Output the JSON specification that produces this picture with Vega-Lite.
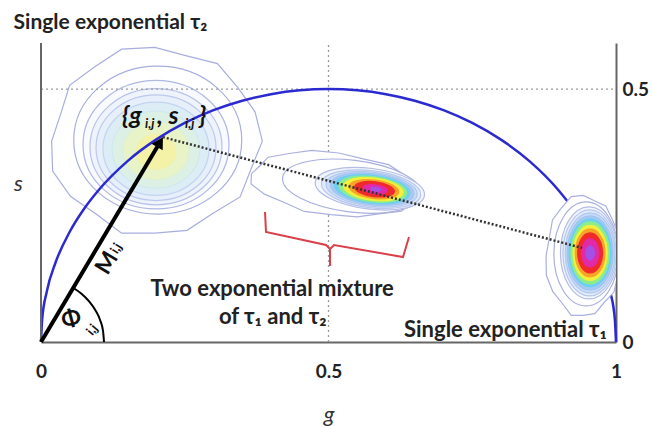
{
  "$schema": "https://vega.github.io/schema/vega-lite/v6.json",
  "width": 575,
  "height": 299,
  "autosize": "none",
  "padding": {"left": 41, "top": 43, "right": 36, "bottom": 84},
  "background": "white",
  "config": {"view": {"stroke": null}, "font": "Lato"},
  "title": {"text": "Single exponential τ₂", "anchor": "start", "font": "Lato", "fontSize": 21, "fontWeight": "bold", "color": "#222", "baseline": "alphabetic", "offset": -8},
  "datasets": {
    "contours": [
      {"blob": "tau2", "level": 1, "g": 0.198, "s": 0.397},
      {"blob": "tau2", "level": 2, "g": 0.203, "s": 0.399},
      {"blob": "tau2", "level": 3, "g": 0.2, "s": 0.39},
      {"blob": "tau2", "level": 4, "g": 0.2, "s": 0.386},
      {"blob": "tau2", "level": 5, "g": 0.2, "s": 0.384},
      {"blob": "tau2", "level": 6, "g": 0.2, "s": 0.382},
      {"blob": "tau2", "level": 7, "g": 0.2, "s": 0.38},
      {"blob": "tau2", "level": 8, "g": 0.2, "s": 0.378},
      {"blob": "tau2", "level": 9, "g": 0.2, "s": 0.376},
      {"blob": "mix", "level": 1, "g": 0.511, "s": 0.312},
      {"blob": "mix", "level": 2, "g": 0.541, "s": 0.308},
      {"blob": "mix", "level": 3, "g": 0.572, "s": 0.303},
      {"blob": "mix", "level": 4, "g": 0.574, "s": 0.302},
      {"blob": "mix", "level": 5, "g": 0.575, "s": 0.302},
      {"blob": "mix", "level": 6, "g": 0.576, "s": 0.302},
      {"blob": "mix", "level": 7, "g": 0.576, "s": 0.302},
      {"blob": "mix", "level": 8, "g": 0.577, "s": 0.302},
      {"blob": "mix", "level": 9, "g": 0.578, "s": 0.302},
      {"blob": "mix", "level": 10, "g": 0.579, "s": 0.302},
      {"blob": "mix", "level": 11, "g": 0.58, "s": 0.302},
      {"blob": "mix", "level": 12, "g": 0.581, "s": 0.302},
      {"blob": "mix", "level": 13, "g": 0.582, "s": 0.302},
      {"blob": "tau1", "level": 1, "g": 0.943, "s": 0.17},
      {"blob": "tau1", "level": 2, "g": 0.948, "s": 0.174},
      {"blob": "tau1", "level": 3, "g": 0.953, "s": 0.176},
      {"blob": "tau1", "level": 4, "g": 0.954, "s": 0.176},
      {"blob": "tau1", "level": 5, "g": 0.955, "s": 0.176},
      {"blob": "tau1", "level": 6, "g": 0.955, "s": 0.176},
      {"blob": "tau1", "level": 7, "g": 0.955, "s": 0.176},
      {"blob": "tau1", "level": 8, "g": 0.955, "s": 0.176},
      {"blob": "tau1", "level": 9, "g": 0.955, "s": 0.176},
      {"blob": "tau1", "level": 10, "g": 0.955, "s": 0.176},
      {"blob": "tau1", "level": 11, "g": 0.955, "s": 0.176},
      {"blob": "tau1", "level": 12, "g": 0.955, "s": 0.176},
      {"blob": "tau1", "level": 13, "g": 0.955, "s": 0.176}
    ],
    "circle": [
      {"g": 0, "s": 0}, {"g": 0.002, "s": 0.0447}, {"g": 0.01, "s": 0.0995}, {"g": 0.025, "s": 0.1561},
      {"g": 0.05, "s": 0.2179}, {"g": 0.075, "s": 0.2634}, {"g": 0.1, "s": 0.3}, {"g": 0.15, "s": 0.3571},
      {"g": 0.2, "s": 0.4}, {"g": 0.25, "s": 0.433}, {"g": 0.3, "s": 0.4583}, {"g": 0.35, "s": 0.477},
      {"g": 0.4, "s": 0.4899}, {"g": 0.45, "s": 0.4975}, {"g": 0.5, "s": 0.5}, {"g": 0.55, "s": 0.4975},
      {"g": 0.6, "s": 0.4899}, {"g": 0.65, "s": 0.477}, {"g": 0.7, "s": 0.4583}, {"g": 0.75, "s": 0.433},
      {"g": 0.8, "s": 0.4}, {"g": 0.85, "s": 0.3571}, {"g": 0.9, "s": 0.3}, {"g": 0.925, "s": 0.2634},
      {"g": 0.95, "s": 0.2179}, {"g": 0.975, "s": 0.1561}, {"g": 0.99, "s": 0.0995}, {"g": 0.998, "s": 0.0447},
      {"g": 1, "s": 0}
    ]
  },
  "encoding": {
    "x": {"field": "g", "type": "quantitative", "scale": {"domain": [0, 1], "nice": false, "zero": false},
      "axis": {"title": "g", "values": [0, 0.5, 1], "format": "~g", "grid": false, "ticks": false, "tickSize": 0,
        "domainColor": "#666", "domainWidth": 2, "labelFont": "Lato", "labelFontSize": 19, "labelFontWeight": "bold", "labelColor": "#222",
        "labelPadding": 20, "labelBaseline": "top", "labelFlush": false,
        "titleFont": "Lato", "titleFontSize": 22, "titleFontStyle": "italic", "titleFontWeight": "normal", "titleColor": "#333",
        "titleY": 72, "titleBaseline": "middle"}},
    "y": {"field": "s", "type": "quantitative", "scale": {"domain": [0, 0.591], "nice": false, "zero": false},
      "axis": {"orient": "right", "title": "s", "values": [0, 0.5], "format": "~g", "grid": false, "ticks": false, "tickSize": 0,
        "domainColor": "#666", "domainWidth": 2, "labelFont": "Lato", "labelFontSize": 19, "labelFontWeight": "bold", "labelColor": "#222",
        "labelPadding": 6, "labelAlign": "left", "labelBaseline": "middle", "labelFlush": false,
        "titleFont": "Lato", "titleFontSize": 22, "titleFontStyle": "italic", "titleFontWeight": "normal", "titleColor": "#333",
        "titleAngle": 0, "titleX": -598, "titleY": 140, "titleAlign": "center", "titleBaseline": "middle"}}
  },
  "layer": [
    {
      "data": {"name": "contours"},
      "transform": [{"filter": "datum.blob === 'tau2'"}],
      "mark": {"type": "point", "filled": true, "fillOpacity": 1, "strokeWidth": 1.2, "strokeOpacity": 1},
      "encoding": {
        "shape": {"field": "level", "type": "ordinal", "legend": null,
          "scale": {"domain": [1, 2, 3, 4, 5, 6, 7, 8, 9],
            "range": [
              "M1,0L0.894,0.261L0.793,0.519L0.541,0.67L0.3,0.83L0,0.855L-0.309,0.856L-0.547,0.677L-0.785,0.513L-0.951,0.278L-0.96,0L-0.875,-0.256L-0.793,-0.519L-0.559,-0.692L-0.309,-0.856L0,-0.873L0.287,-0.796L0.582,-0.721L0.769,-0.503L0.932,-0.273Z",
              "M1,0C1,0.486 0.5523,0.88 0,0.88C-0.5523,0.88 -1,0.486 -1,0C-1,-0.486 -0.5523,-0.88 0,-0.88C0.5523,-0.88 1,-0.486 1,0Z",
              "M1,0C1,0.486 0.5523,0.88 0,0.88C-0.5523,0.88 -1,0.486 -1,0C-1,-0.486 -0.5523,-0.88 0,-0.88C0.5523,-0.88 1,-0.486 1,0Z",
              "M1,0C1,0.486 0.5523,0.88 0,0.88C-0.5523,0.88 -1,0.486 -1,0C-1,-0.486 -0.5523,-0.88 0,-0.88C0.5523,-0.88 1,-0.486 1,0Z",
              "M1,0C1,0.486 0.5523,0.88 0,0.88C-0.5523,0.88 -1,0.486 -1,0C-1,-0.486 -0.5523,-0.88 0,-0.88C0.5523,-0.88 1,-0.486 1,0Z",
              "M1,0C1,0.486 0.5523,0.88 0,0.88C-0.5523,0.88 -1,0.486 -1,0C-1,-0.486 -0.5523,-0.88 0,-0.88C0.5523,-0.88 1,-0.486 1,0Z",
              "M1,0C1,0.486 0.5523,0.88 0,0.88C-0.5523,0.88 -1,0.486 -1,0C-1,-0.486 -0.5523,-0.88 0,-0.88C0.5523,-0.88 1,-0.486 1,0Z",
              "M1,0C1,0.486 0.5523,0.88 0,0.88C-0.5523,0.88 -1,0.486 -1,0C-1,-0.486 -0.5523,-0.88 0,-0.88C0.5523,-0.88 1,-0.486 1,0Z",
              "M1,0C1,0.486 0.5523,0.88 0,0.88C-0.5523,0.88 -1,0.486 -1,0C-1,-0.486 -0.5523,-0.88 0,-0.88C0.5523,-0.88 1,-0.486 1,0Z"
            ]}},
        "size": {"field": "level", "type": "quantitative", "legend": null,
          "scale": {"type": "linear", "zero": false, "domain": [1, 2, 3, 4, 5, 6, 7, 8, 9], "range": [46225, 28224, 21316, 17424, 14400, 11236, 7744, 4356, 1600]}},
        "fill": {"field": "level", "type": "ordinal", "legend": null,
          "scale": {"domain": [1, 2, 3, 4, 5, 6, 7, 8, 9], "range": ["#ffffff", "#ffffff", "#f8fafe", "#eff4fc", "#e6effa", "#ddedf6", "#dcf0e6", "#e8f4c8", "#f4f2a6"]}},
        "stroke": {"field": "level", "type": "ordinal", "legend": null,
          "scale": {"domain": [1, 2, 3, 4, 5, 6, 7, 8, 9], "range": ["#a8aede", "#a8aede", "#b0b8e4", "#b8c2ea", "#bcc8ee", "#c4d4f0", "#d0e8ee", "#e0f0d0", "#f0f0b0"]}}
      }
    },
    {
      "data": {"values": [{"g": 0, "s": 0.5, "g2": 1, "s2": 0.5}, {"g": 0.5, "s": 0, "g2": 0.5, "s2": 0.591}]},
      "mark": {"type": "rule", "color": "#9a9a9a", "strokeWidth": 1.3, "strokeDash": [2, 3]},
      "encoding": {"x2": {"field": "g2"}, "y2": {"field": "s2"}}
    },
    {
      "data": {"name": "circle"},
      "mark": {"type": "line", "color": "#2a2ad0", "strokeWidth": 2.5, "interpolate": "monotone"},
      "encoding": {"order": {"field": "g", "type": "quantitative"}}
    },
    {
      "data": {"name": "contours"},
      "transform": [{"filter": "datum.blob === 'mix'"}],
      "mark": {"type": "point", "filled": true, "fillOpacity": 1, "strokeWidth": 1.2, "angle": 7},
      "encoding": {
        "shape": {"field": "level", "type": "ordinal", "legend": null,
          "scale": {"domain": [1, 2, 3, 4, 5, 6, 7, 8, 9, 10, 11, 12, 13],
            "range": [
              "M1,0L0.894,0.107L0.793,0.213L0.541,0.275L0.3,0.341L0,0.351L-0.309,0.352L-0.547,0.278L-0.785,0.211L-0.951,0.114L-0.96,0L-0.875,-0.105L-0.793,-0.213L-0.559,-0.284L-0.309,-0.352L0,-0.359L0.287,-0.327L0.582,-0.296L0.769,-0.207L0.932,-0.112Z",
              "M1,0C1,0.2044 0.5523,0.37 0,0.37C-0.5523,0.37 -1,0.2044 -1,0C-1,-0.2044 -0.5523,-0.37 0,-0.37C0.5523,-0.37 1,-0.2044 1,0Z",
              "M1,0C1,0.2044 0.5523,0.37 0,0.37C-0.5523,0.37 -1,0.2044 -1,0C-1,-0.2044 -0.5523,-0.37 0,-0.37C0.5523,-0.37 1,-0.2044 1,0Z",
              "M1,0C1,0.2044 0.5523,0.37 0,0.37C-0.5523,0.37 -1,0.2044 -1,0C-1,-0.2044 -0.5523,-0.37 0,-0.37C0.5523,-0.37 1,-0.2044 1,0Z",
              "M1,0C1,0.2044 0.5523,0.37 0,0.37C-0.5523,0.37 -1,0.2044 -1,0C-1,-0.2044 -0.5523,-0.37 0,-0.37C0.5523,-0.37 1,-0.2044 1,0Z",
              "M1,0C1,0.2044 0.5523,0.37 0,0.37C-0.5523,0.37 -1,0.2044 -1,0C-1,-0.2044 -0.5523,-0.37 0,-0.37C0.5523,-0.37 1,-0.2044 1,0Z",
              "M1,0C1,0.2044 0.5523,0.37 0,0.37C-0.5523,0.37 -1,0.2044 -1,0C-1,-0.2044 -0.5523,-0.37 0,-0.37C0.5523,-0.37 1,-0.2044 1,0Z",
              "M1,0C1,0.2044 0.5523,0.37 0,0.37C-0.5523,0.37 -1,0.2044 -1,0C-1,-0.2044 -0.5523,-0.37 0,-0.37C0.5523,-0.37 1,-0.2044 1,0Z",
              "M1,0C1,0.2044 0.5523,0.37 0,0.37C-0.5523,0.37 -1,0.2044 -1,0C-1,-0.2044 -0.5523,-0.37 0,-0.37C0.5523,-0.37 1,-0.2044 1,0Z",
              "M1,0C1,0.2044 0.5523,0.37 0,0.37C-0.5523,0.37 -1,0.2044 -1,0C-1,-0.2044 -0.5523,-0.37 0,-0.37C0.5523,-0.37 1,-0.2044 1,0Z",
              "M1,0C1,0.2044 0.5523,0.37 0,0.37C-0.5523,0.37 -1,0.2044 -1,0C-1,-0.2044 -0.5523,-0.37 0,-0.37C0.5523,-0.37 1,-0.2044 1,0Z",
              "M1,0C1,0.2044 0.5523,0.37 0,0.37C-0.5523,0.37 -1,0.2044 -1,0C-1,-0.2044 -0.5523,-0.37 0,-0.37C0.5523,-0.37 1,-0.2044 1,0Z",
              "M1,0C1,0.2044 0.5523,0.37 0,0.37C-0.5523,0.37 -1,0.2044 -1,0C-1,-0.2044 -0.5523,-0.37 0,-0.37C0.5523,-0.37 1,-0.2044 1,0Z"
            ]}},
        "size": {"field": "level", "type": "quantitative", "legend": null,
          "scale": {"type": "linear", "zero": false, "domain": [1, 2, 3, 4, 5, 6, 7, 8, 9, 10, 11, 12, 13], "range": [30625, 19600, 12100, 10000, 8464, 7056, 5776, 4624, 3600, 2500, 1600, 576, 100]}},
        "fill": {"field": "level", "type": "ordinal", "legend": null,
          "scale": {"domain": [1, 2, 3, 4, 5, 6, 7, 8, 9, 10, 11, 12, 13], "range": ["#ffffff", "#ffffff", "#f3f6fd", "#e2ebfa", "#c9dbf6", "#a9c9f2", "#6fcff0", "#8fec8c", "#f2f03c", "#f8a428", "#f02a2a", "#e02aa8", "#a450e6"]}},
        "stroke": {"field": "level", "type": "ordinal", "legend": null,
          "scale": {"domain": [1, 2, 3, 4, 5, 6, 7, 8, 9, 10, 11, 12, 13], "range": ["#aab0de", "#aab0de", "#b4bde6", "#b8c6ec", "#b0c8f0", "#a0c4f0", "#6fcff0", "#8fec8c", "#f2f03c", "#f8a428", "#f02a2a", "#e02aa8", "#a450e6"]}}
      }
    },
    {
      "data": {"name": "contours"},
      "transform": [{"filter": "datum.blob === 'tau1'"}],
      "mark": {"type": "point", "filled": true, "fillOpacity": 1, "strokeWidth": 1.2, "clip": true},
      "encoding": {
        "shape": {"field": "level", "type": "ordinal", "legend": null,
          "scale": {"domain": [1, 2, 3, 4, 5, 6, 7, 8, 9, 10, 11, 12, 13],
            "range": [
              "M0.62,0L0.554,0.29L0.492,0.577L0.335,0.744L0.186,0.922L0,0.95L-0.192,0.951L-0.339,0.752L-0.487,0.57L-0.59,0.309L-0.595,0L-0.543,-0.284L-0.492,-0.577L-0.347,-0.769L-0.192,-0.951L0,-0.97L0.178,-0.884L0.361,-0.801L0.477,-0.559L0.578,-0.303Z",
              "M0.62,0C0.62,0.5523 0.3424,1 0,1C-0.3424,1 -0.62,0.5523 -0.62,0C-0.62,-0.5523 -0.3424,-1 0,-1C0.3424,-1 0.62,-0.5523 0.62,0Z",
              "M0.62,0C0.62,0.5523 0.3424,1 0,1C-0.3424,1 -0.62,0.5523 -0.62,0C-0.62,-0.5523 -0.3424,-1 0,-1C0.3424,-1 0.62,-0.5523 0.62,0Z",
              "M0.62,0C0.62,0.5523 0.3424,1 0,1C-0.3424,1 -0.62,0.5523 -0.62,0C-0.62,-0.5523 -0.3424,-1 0,-1C0.3424,-1 0.62,-0.5523 0.62,0Z",
              "M0.62,0C0.62,0.5523 0.3424,1 0,1C-0.3424,1 -0.62,0.5523 -0.62,0C-0.62,-0.5523 -0.3424,-1 0,-1C0.3424,-1 0.62,-0.5523 0.62,0Z",
              "M0.62,0C0.62,0.5523 0.3424,1 0,1C-0.3424,1 -0.62,0.5523 -0.62,0C-0.62,-0.5523 -0.3424,-1 0,-1C0.3424,-1 0.62,-0.5523 0.62,0Z",
              "M0.62,0C0.62,0.5523 0.3424,1 0,1C-0.3424,1 -0.62,0.5523 -0.62,0C-0.62,-0.5523 -0.3424,-1 0,-1C0.3424,-1 0.62,-0.5523 0.62,0Z",
              "M0.62,0C0.62,0.5523 0.3424,1 0,1C-0.3424,1 -0.62,0.5523 -0.62,0C-0.62,-0.5523 -0.3424,-1 0,-1C0.3424,-1 0.62,-0.5523 0.62,0Z",
              "M0.62,0C0.62,0.5523 0.3424,1 0,1C-0.3424,1 -0.62,0.5523 -0.62,0C-0.62,-0.5523 -0.3424,-1 0,-1C0.3424,-1 0.62,-0.5523 0.62,0Z",
              "M0.62,0C0.62,0.5523 0.3424,1 0,1C-0.3424,1 -0.62,0.5523 -0.62,0C-0.62,-0.5523 -0.3424,-1 0,-1C0.3424,-1 0.62,-0.5523 0.62,0Z",
              "M0.62,0C0.62,0.5523 0.3424,1 0,1C-0.3424,1 -0.62,0.5523 -0.62,0C-0.62,-0.5523 -0.3424,-1 0,-1C0.3424,-1 0.62,-0.5523 0.62,0Z",
              "M0.62,0C0.62,0.5523 0.3424,1 0,1C-0.3424,1 -0.62,0.5523 -0.62,0C-0.62,-0.5523 -0.3424,-1 0,-1C0.3424,-1 0.62,-0.5523 0.62,0Z",
              "M0.62,0C0.62,0.5523 0.3424,1 0,1C-0.3424,1 -0.62,0.5523 -0.62,0C-0.62,-0.5523 -0.3424,-1 0,-1C0.3424,-1 0.62,-0.5523 0.62,0Z"
            ]}},
        "size": {"field": "level", "type": "quantitative", "legend": null,
          "scale": {"type": "linear", "zero": false, "domain": [1, 2, 3, 4, 5, 6, 7, 8, 9, 10, 11, 12, 13], "range": [15625, 10816, 8464, 7396, 6400, 5476, 4624, 3844, 3025, 2304, 1600, 784, 196]}},
        "fill": {"field": "level", "type": "ordinal", "legend": null,
          "scale": {"domain": [1, 2, 3, 4, 5, 6, 7, 8, 9, 10, 11, 12, 13], "range": ["#ffffff", "#ffffff", "#f3f6fd", "#e2ebfa", "#c9dbf6", "#a9c9f2", "#6fcff0", "#8fec8c", "#f2f03c", "#f8a428", "#f02a2a", "#e02aa8", "#a450e6"]}},
        "stroke": {"field": "level", "type": "ordinal", "legend": null,
          "scale": {"domain": [1, 2, 3, 4, 5, 6, 7, 8, 9, 10, 11, 12, 13], "range": ["#aab0de", "#aab0de", "#b4bde6", "#b8c6ec", "#b0c8f0", "#a0c4f0", "#6fcff0", "#8fec8c", "#f2f03c", "#f8a428", "#f02a2a", "#e02aa8", "#a450e6"]}}
      }
    },
    {
      "data": {"values": [{"g": 0, "s": 0, "g2": 0, "s2": 0.591}]},
      "mark": {"type": "rule", "color": "#666", "strokeWidth": 2},
      "encoding": {"x2": {"field": "g2"}, "y2": {"field": "s2"}}
    },
    {
      "data": {"values": [{"g": 0.212, "s": 0.405, "g2": 0.941, "s2": 0.186}]},
      "mark": {"type": "rule", "color": "#333", "strokeWidth": 2.5, "strokeDash": [2, 2]},
      "encoding": {"x2": {"field": "g2"}, "y2": {"field": "s2"}}
    },
    {
      "data": {"values": [{"g": 0, "s": 0, "g2": 0.207, "s2": 0.395}]},
      "mark": {"type": "rule", "color": "#000", "strokeWidth": 4},
      "encoding": {"x2": {"field": "g2"}, "y2": {"field": "s2"}}
    },
    {
      "data": {"values": [{"g": 0.207, "s": 0.395}]},
      "mark": {"type": "point", "shape": "triangle-up", "filled": true, "color": "#000", "size": 170, "angle": 31, "opacity": 1}
    },
    {
      "data": {"values": [
        {"g": 0.1096, "s": 0}, {"g": 0.1079, "s": 0.0216}, {"g": 0.103, "s": 0.0426}, {"g": 0.0949, "s": 0.0623},
        {"g": 0.084, "s": 0.08}, {"g": 0.0704, "s": 0.0954}, {"g": 0.0564, "s": 0.1067}]},
      "mark": {"type": "line", "color": "#000", "strokeWidth": 2, "interpolate": "monotone"},
      "encoding": {"order": {"field": "s", "type": "quantitative"}}
    },
    {
      "data": {"values": [
        {"i": 1, "g": 0.3896, "s": 0.2569}, {"i": 2, "g": 0.3913, "s": 0.2174}, {"i": 3, "g": 0.4957, "s": 0.1917},
        {"i": 4, "g": 0.5026, "s": 0.1838}, {"i": 5, "g": 0.5026, "s": 0.1502}, {"i": 6, "g": 0.5026, "s": 0.1838},
        {"i": 7, "g": 0.5096, "s": 0.1917}, {"i": 8, "g": 0.6296, "s": 0.168}, {"i": 9, "g": 0.64, "s": 0.2075}]},
      "mark": {"type": "line", "color": "#d9404a", "strokeWidth": 2},
      "encoding": {"order": {"field": "i", "type": "quantitative"}}
    },
    {
      "data": {"values": [{"g": 0.402, "s": 0.105, "t": "Two exponential mixture"}, {"g": 0.403, "s": 0.049, "t": "of τ₁ and τ₂"}]},
      "mark": {"type": "text", "font": "Lato", "fontSize": 22, "fontWeight": "bold", "color": "#222", "align": "center", "baseline": "middle"},
      "encoding": {"text": {"field": "t"}}
    },
    {
      "data": {"values": [{"g": 0.984, "s": 0.024, "t": "Single exponential τ₁"}]},
      "mark": {"type": "text", "font": "Lato", "fontSize": 22, "fontWeight": "bold", "color": "#222", "align": "right", "baseline": "middle"},
      "encoding": {"text": {"field": "t"}}
    },
    {
      "data": {"values": [{"g": 0.141, "s": 0.431, "t": "{g"}]},
      "mark": {"type": "text", "font": "Lato", "fontSize": 25, "fontWeight": "bold", "fontStyle": "italic", "color": "#111", "align": "left", "baseline": "alphabetic"},
      "encoding": {"text": {"field": "t"}}
    },
    {
      "data": {"values": [{"g": 0.141, "s": 0.431, "t": "i,j"}]},
      "mark": {"type": "text", "font": "Lato", "fontSize": 13, "fontWeight": "bold", "fontStyle": "italic", "color": "#111", "align": "left", "baseline": "alphabetic", "dx": 23, "dy": 4},
      "encoding": {"text": {"field": "t"}}
    },
    {
      "data": {"values": [{"g": 0.141, "s": 0.431, "t": ", s"}]},
      "mark": {"type": "text", "font": "Lato", "fontSize": 25, "fontWeight": "bold", "fontStyle": "italic", "color": "#111", "align": "left", "baseline": "alphabetic", "dx": 35},
      "encoding": {"text": {"field": "t"}}
    },
    {
      "data": {"values": [{"g": 0.141, "s": 0.431, "t": "i,j"}]},
      "mark": {"type": "text", "font": "Lato", "fontSize": 13, "fontWeight": "bold", "fontStyle": "italic", "color": "#111", "align": "left", "baseline": "alphabetic", "dx": 63, "dy": 4},
      "encoding": {"text": {"field": "t"}}
    },
    {
      "data": {"values": [{"g": 0.141, "s": 0.431, "t": "}"}]},
      "mark": {"type": "text", "font": "Lato", "fontSize": 25, "fontWeight": "bold", "fontStyle": "italic", "color": "#111", "align": "left", "baseline": "alphabetic", "dx": 77},
      "encoding": {"text": {"field": "t"}}
    },
    {
      "data": {"values": [{"g": 0.115, "s": 0.156, "t": "M"}]},
      "mark": {"type": "text", "font": "Lato", "fontSize": 23, "fontWeight": "bold", "color": "#111", "align": "center", "baseline": "middle", "angle": -59},
      "encoding": {"text": {"field": "t"}}
    },
    {
      "data": {"values": [{"g": 0.131, "s": 0.185, "t": "i,j"}]},
      "mark": {"type": "text", "font": "Lato", "fontSize": 13, "fontWeight": "bold", "color": "#111", "align": "center", "baseline": "middle", "angle": -59},
      "encoding": {"text": {"field": "t"}}
    },
    {
      "data": {"values": [{"g": 0.053, "s": 0.045, "t": "Φ"}]},
      "mark": {"type": "text", "font": "Lato", "fontSize": 23, "fontWeight": "bold", "color": "#111", "align": "center", "baseline": "middle", "angle": -15},
      "encoding": {"text": {"field": "t"}}
    },
    {
      "data": {"values": [{"g": 0.089, "s": 0.024, "t": "i,j"}]},
      "mark": {"type": "text", "font": "Lato", "fontSize": 13, "fontWeight": "bold", "color": "#111", "align": "center", "baseline": "middle", "angle": -50},
      "encoding": {"text": {"field": "t"}}
    }
  ],
  "resolve": {"scale": {"size": "independent", "shape": "independent", "fill": "independent", "stroke": "independent"}}
}
